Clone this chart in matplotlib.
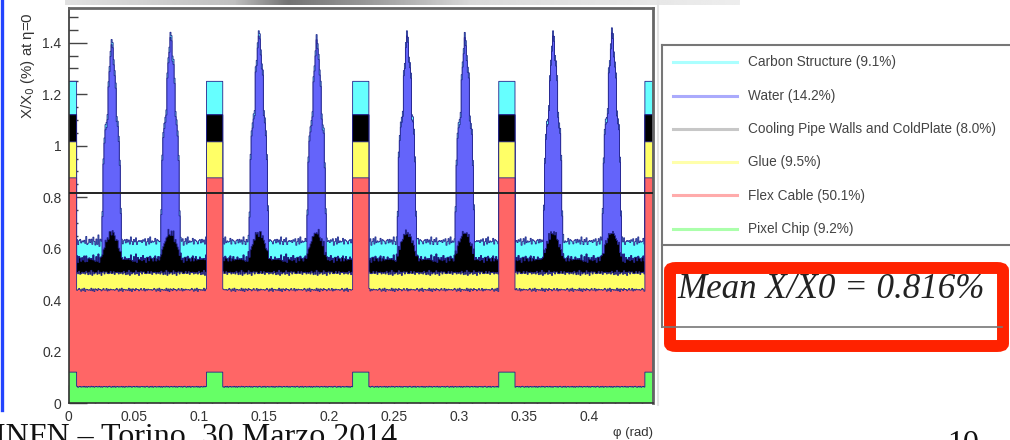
import numpy as np
import matplotlib
matplotlib.use('Agg')
import matplotlib.pyplot as plt
from matplotlib.patches import FancyBboxPatch
from matplotlib.lines import Line2D
from matplotlib.ticker import MultipleLocator

plt.rcParams['font.family'] = ['Liberation Sans', 'DejaVu Sans']

# --- 1. Data ---
phi_max = 0.4488
n_bins = 576
stave_edges = [0.0, 0.1122, 0.2244, 0.3366, 0.4488]   # overlap columns
overlap_half = 0.0066
pipe_phi = [0.0330, 0.0780, 0.1460, 0.1905, 0.2600, 0.3040, 0.3720, 0.4170]
pipe_peak = [1.42, 1.45, 1.46, 1.43, 1.45, 1.44, 1.45, 1.46]

labels = ['Pixel Chip (9.2%)', 'Flex Cable (50.1%)', 'Glue (9.5%)',
          'Cooling Pipe Walls and ColdPlate (8.0%)', 'Water (14.2%)',
          'Carbon Structure (9.1%)']
colors = ['#66ff66', '#ff6666', '#ffff66', '#000000', '#6464fa', '#66ffff']

# cumulative tops (X/X0 %) on the plain stave and on the overlap columns
top_plain = [0.063, 0.440, 0.505, 0.560, 0.560, 0.628]
top_overlap = [0.120, 0.875, 1.015, 1.120, 1.120, 1.250]

# water profile across a pipe (fraction of peak, one entry per bin)
pipe_shape = [0.0, 0.20, 0.45, 0.55, 0.58, 0.60, 0.62, 0.80, 0.84, 0.92, 1.0,
              0.96, 0.88, 0.84, 0.80, 0.62, 0.60, 0.56, 0.45, 0.20, 0.0]
# extra pipe-wall material around a pipe
wall_bump = [0.0, 0.01, 0.02, 0.03, 0.05, 0.06, 0.07, 0.08, 0.09, 0.10, 0.10,
             0.10, 0.10, 0.10, 0.09, 0.08, 0.07, 0.06, 0.05, 0.03, 0.02, 0.01, 0.0]
carbon_on_pipe = 0.02

# bin-to-bin roughness of the layer edges
rough = [0.3, -0.8, 0.5, 1.0, -0.2, -0.9, 0.6, -0.4, 0.9, -1.0, 0.2, 0.7,
         -0.6, 0.1, -0.3, 0.8, -0.7, 0.4, -1.0, 0.6, 0.0, -0.5, 1.0, -0.2,
         0.5, -0.9, 0.3, 0.7, -0.4, -0.1, 0.9, -0.6, 0.2, -0.8, 0.6, 0.4, -0.3]
rough_amp = [0.002, 0.005, 0.005, 0.011, 0.0, 0.008]

mean_x0 = 0.816

# --- 2. Build the stacked histogram ---
edges = np.linspace(0, phi_max, n_bins + 1)
centres = 0.5 * (edges[:-1] + edges[1:])
bw = edges[1] - edges[0]

thick = np.tile(np.diff([0] + top_plain), (n_bins, 1))
for j, amp in enumerate(rough_amp):
    thick[:, j] += amp * np.roll(np.resize(rough, n_bins), 7 * j)

for e in stave_edges:
    m = np.abs(centres - e) < overlap_half
    thick[m] = np.diff([0] + top_overlap)

for p, pk in zip(pipe_phi, pipe_peak):
    i0 = int(p / bw)
    for k, b in enumerate(wall_bump):
        thick[i0 + k - 11, 3] += b
    water_max = pk - 0.68
    for k, s in enumerate(pipe_shape):
        if s > 0:
            thick[i0 + k - 10, 4] = s * water_max
            thick[i0 + k - 10, 5] = carbon_on_pipe

cum = np.cumsum(thick, axis=1)

# --- 3. Figure ---
W, H = 1010, 440
fig = plt.figure(figsize=(W / 100, H / 100), dpi=100)


def fx(x):
    return x / W


def fy(y):
    return 1 - y / H


ax = fig.add_axes([fx(68.5), fy(403), fx(653 - 68.5), (403 - 8) / H])
for j in reversed(range(6)):
    ax.stairs(cum[:, j], edges, baseline=0, fill=True, facecolor=colors[j],
              edgecolor='#22228c', linewidth=0.6, zorder=2)
ax.axhline(mean_x0, color='#222222', lw=1.4, zorder=5)

ax.set_xlim(0, phi_max)
ax.set_ylim(0, 1.535)
ax.set_axisbelow(True)
ax.xaxis.set_major_locator(MultipleLocator(0.05))
ax.xaxis.set_minor_locator(MultipleLocator(0.01))
ax.yaxis.set_major_locator(MultipleLocator(0.2))
ax.yaxis.set_minor_locator(MultipleLocator(0.05))
ax.xaxis.set_major_formatter(plt.FuncFormatter(lambda v, _: f'{v:g}'))
ax.yaxis.set_major_formatter(plt.FuncFormatter(lambda v, _: f'{v:g}'))
ax.tick_params(which='major', direction='in', length=13, width=1, color='#444',
               labelsize=10, labelcolor='#333', pad=5)
ax.tick_params(which='minor', direction='in', length=6.5, width=1, color='#444')
for s in ['left', 'bottom']:
    ax.spines[s].set_color('#333')
    ax.spines[s].set_linewidth(1.2)
for s in ['top', 'right']:
    ax.spines[s].set_color('#666')
    ax.spines[s].set_linewidth(2)

fig.text(fx(28), fy(12), r'X/X$_0$ (%) at η=0', rotation=90, ha='center',
         va='top', fontsize=10.8, color='#333')
fig.text(fx(653), fy(433), 'φ (rad)', ha='right', va='center',
         fontsize=9.5, color='#333')

# --- 4. Legend panel ---
fig.add_artist(Line2D([fx(662), fx(1015)], [fy(45), fy(45)], color='#777', lw=1.5))
fig.add_artist(Line2D([fx(662), fx(662)], [fy(45), fy(327)], color='#777', lw=1.5))
fig.add_artist(Line2D([fx(662), fx(1015)], [fy(245), fy(245)], color='#777', lw=1.5))
fig.add_artist(Line2D([fx(662), fx(1002)], [fy(327), fy(327)], color='#777', lw=1.2))
fig.add_artist(Line2D([fx(658), fx(658)], [fy(0), fy(405)], color='#e4e4e4', lw=1.5))

for k, j in enumerate(reversed(range(6))):
    y = 62.3 + k * 33.3
    lc = '#999999' if colors[j] == '#000000' else colors[j]
    fig.add_artist(Line2D([fx(673), fx(737)], [fy(y), fy(y)], color=lc,
                          alpha=0.55, lw=2.2))
    fig.text(fx(748), fy(y), labels[j], ha='left', va='center',
             fontsize=9.8, color='#444')

fig.text(fx(677), fy(298), 'Mean X/X0 = 0.816%', ha='left', va='baseline',
         fontsize=25.2, style='italic', family='Liberation Serif', color='#222')
fig.add_artist(FancyBboxPatch((fx(670), fy(346)), fx(1003 - 670), (346 - 268) / H,
                              boxstyle='round,pad=0,rounding_size=0.006',
                              facecolor='none', edgecolor='#ff2200', lw=8.6))

# --- 5. Slide decorations ---
fig.add_artist(Line2D([fx(1.5), fx(1.5)], [fy(0), fy(410)], color='#2244ff', lw=2.4))
bar = fig.add_axes([fx(65), fy(5), fx(740 - 65), 5 / H])
grad = np.interp(np.linspace(0, 1, 300), [0, 0.25, 0.33, 0.45, 0.6, 1],
                 [0.88, 0.75, 0.45, 0.6, 0.85, 0.93])
bar.imshow(grad[None, :], cmap='gray', vmin=0, vmax=1, aspect='auto')
bar.axis('off')

# footer of the slide, cut by the lower edge as in the screenshot
fig.text(fx(397), fy(423), 'INFN – Torino, 30 Marzo 2014', ha='right', va='top',
         fontsize=23, family='Liberation Serif', color='#111')
fig.text(fx(947), fy(430), '10', ha='left', va='top',
         fontsize=23, family='Liberation Serif', color='#111')

fig.savefig('out.png', dpi=100)
